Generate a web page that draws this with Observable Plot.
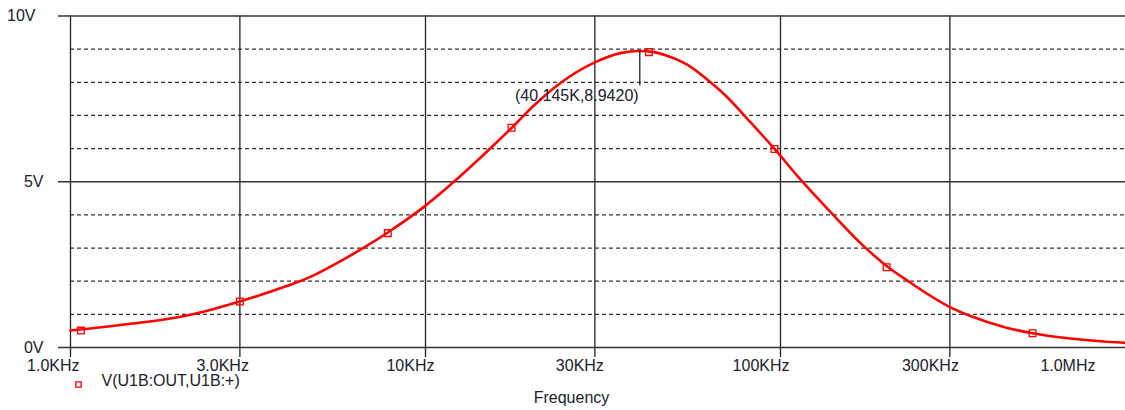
<!DOCTYPE html>
<html>
<head>
<meta charset="utf-8">
<script src="https://cdn.jsdelivr.net/npm/d3@7"></script>
<script src="https://cdn.jsdelivr.net/npm/@observablehq/plot@0.6"></script>
<style>
  html, body { margin: 0; padding: 0; background: #fff; }
  svg { overflow: hidden; display: block; }
</style>
</head>
<body>
<div id="chart"></div>
<script>
// Curve samples (frequency in Hz, volts)
const freqHz = [1000, 1444, 1872, 2225, 3000, 4080, 4740, 5400, 6700, 7830, 10000, 12000, 14000, 15900, 17500, 20200, 24000, 30000, 35400, 40145, 44000, 47900, 54600, 63500, 70800, 80600, 96200, 113800, 139900, 171800, 199000, 227500, 300000, 343000, 425800, 513000, 656000, 815000, 937000, 1000000];
const volts  = [0.51, 0.70, 0.86, 1.01, 1.39, 1.86, 2.13, 2.44, 3.01, 3.47, 4.28, 4.99, 5.64, 6.20, 6.63, 7.30, 7.98, 8.60, 8.88, 8.942, 8.91, 8.80, 8.53, 8.00, 7.55, 6.90, 5.99, 5.07, 4.03, 3.05, 2.46, 2.02, 1.22, 0.95, 0.62, 0.43, 0.27, 0.18, 0.14, 0.13];

// Data point markers on the trace
const markerHz = [1070, 3000, 7830, 17470, 42600, 96200, 199000, 513000];
const markerV  = [0.51, 1.39, 3.45, 6.63, 8.91, 5.99, 2.42, 0.43];

// Axes
const xTicks = [1e3, 3e3, 1e4, 3e4, 1e5, 3e5, 1e6];
const xTickLabels = ["1.0KHz", "3.0KHz", "10KHz", "30KHz", "100KHz", "300KHz", "1.0MHz"];
const yMajor = [0, 5, 10];
const yTickLabels = ["0V", "5V", "10V"];
const yMinor = [1, 2, 3, 4, 6, 7, 8, 9];

// Labels
const seriesName = "V(U1B:OUT,U1B:+)";
const xTitle = "Frequency";
const peakF = 40145, peakV = 8.942, peakLabel = "(40.145K,8.9420)";

const data = freqHz.map((f, i) => ({f, v: volts[i]}));
const markers = markerHz.map((f, i) => ({f, v: markerV[i]}));
const fmtX = d => xTickLabels[xTicks.indexOf(d)];
const fmtY = d => yTickLabels[yMajor.indexOf(d)];
const textColor = "#20202e";
const gridColor = "#333";

const chart = Plot.plot({
  width: 1125,
  height: 410,
  marginLeft: 70,
  marginRight: -10,
  marginTop: 15.5,
  marginBottom: 63,
  x: {type: "log", domain: [1e3, 1e6]},
  y: {domain: [0, 10]},
  style: {fontFamily: "'Liberation Sans', Arial, sans-serif", fontSize: "16px", background: "white", color: textColor, overflow: "hidden"},
  marks: [
    Plot.gridY(yMinor, {stroke: gridColor, strokeOpacity: 1, strokeWidth: 1.2, strokeDasharray: "4,3"}),
    Plot.gridX(xTicks, {stroke: "#222", strokeOpacity: 1, strokeWidth: 1.3, insetBottom: -10}),
    Plot.gridY(yMajor, {stroke: gridColor, strokeOpacity: 1, strokeWidth: 1.3, insetLeft: -12}),
    Plot.axisX(xTicks.slice(0, -1), {tickSize: 0, tickPadding: 12, tickFormat: fmtX, textAnchor: "end", dx: 9, fill: textColor, label: null}),
    Plot.axisX(xTicks.slice(-1), {tickSize: 0, tickPadding: 12, tickFormat: fmtX, textAnchor: "end", dx: -40, fill: textColor, label: null}),
    Plot.axisY(yMajor.slice(0, 2), {tickSize: 0, tickPadding: 27, tickFormat: fmtY, fill: textColor, label: null}),
    Plot.axisY(yMajor.slice(2), {tickSize: 0, tickPadding: 35, tickFormat: fmtY, fill: textColor, label: null}),
    Plot.line(data, {x: "f", y: "v", stroke: "#ff0000", strokeWidth: 2.6, curve: "monotone-x"}),
    Plot.dot(markers, {x: "f", y: "v", symbol: "square", r: 3.8, stroke: "#ff0000", strokeWidth: 1.3, fill: "none"}),
    Plot.ruleX([peakF], {y1: peakV, y2: peakV - 1.05, stroke: "#222", strokeWidth: 1.3}),
    Plot.text([{f: peakF, v: peakV, label: peakLabel}], {x: "f", y: "v", text: "label", dx: -63, dy: 45, fill: textColor}),
    Plot.dot([seriesName], {frameAnchor: "bottom-left", symbol: "square", r: 3, stroke: "#ff0000", strokeWidth: 1.3, fill: "none", dx: 8, dy: 37}),
    Plot.text([seriesName], {frameAnchor: "bottom-left", text: d => d, textAnchor: "start", dx: 31, dy: 38, fill: textColor}),
    Plot.text([xTitle], {frameAnchor: "bottom", text: d => d, dx: -31.5, dy: 55, fill: textColor})
  ]
});
document.getElementById("chart").appendChild(chart);
</script>
</body>
</html>
